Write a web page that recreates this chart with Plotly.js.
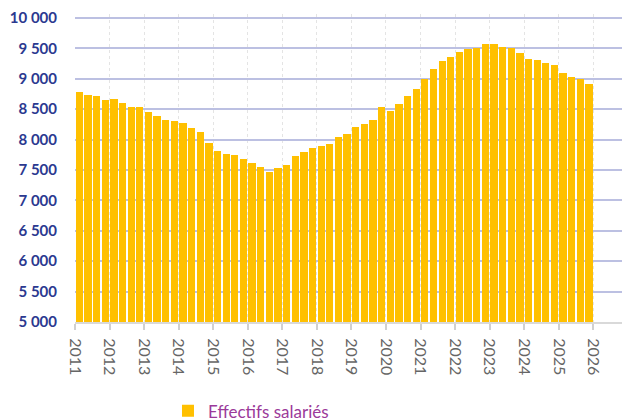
<!DOCTYPE html>
<html>
<head>
<meta charset="utf-8">
<script src="https://cdn.plot.ly/plotly-3.0.1.min.js"></script>
<style>html,body{margin:0;padding:0;background:#fff}#chart{width:622px;height:420px}</style>
</head>
<body>
<div id="chart"></div>
<script>
// Quarterly values, 2011 Q1 -> 2025 Q4
var startYear = 2011;
var values = [
  8780, 8736, 8715, 8654,
  8670, 8604, 8538, 8535,
  8451, 8385, 8319, 8298,
  8275, 8187, 8121, 7945,
  7813, 7770, 7747, 7681,
  7615, 7549, 7462, 7528,
  7577, 7726, 7792, 7858,
  7902, 7924, 8039, 8100,
  8209, 8253, 8319, 8538,
  8472, 8583, 8715, 8825,
  9000, 9155, 9286, 9352,
  9440, 9484, 9506, 9572,
  9572, 9527, 9506, 9418,
  9329, 9308, 9263, 9220,
  9089, 9023, 9000, 8912
];
var yearTicks = [2011,2012,2013,2014,2015,2016,2017,2018,2019,2020,2021,2022,2023,2024,2025,2026];
var yTicks = [5000,5500,6000,6500,7000,7500,8000,8500,9000,9500,10000];
var seriesName = "Effectifs salariés";

var xs = values.map(function(v, i){ return startYear + (i + 0.5) / 4; });

var trace = {
  type: 'bar',
  x: xs,
  y: values,
  width: 0.25 * 0.84,
  name: seriesName,
  marker: {color: '#FFC000', line: {width: 0}},
  showlegend: true,
  hoverinfo: 'x+y'
};

var layout = {
  width: 622, height: 420,
  margin: {l: 75, r: 0, t: 14, b: 98, autoexpand: false},
  paper_bgcolor: '#fff', plot_bgcolor: '#fff',
  separators: ', ',
  bargap: 0,
  showlegend: true,
  legend: {
    orientation: 'h', x: 0.17, xanchor: 'left', y: -0.29, yanchor: 'middle',
    font: {family: 'Lato, sans-serif', size: 17, color: '#9B3A9A'},
    bgcolor: 'rgba(0,0,0,0)'
  },
  xaxis: {
    range: [2011, 2026.83],
    automargin: false,
    tickmode: 'array', tickvals: yearTicks, ticktext: yearTicks.map(String),
    tickangle: 90,
    tickfont: {family: 'Lato, sans-serif', size: 16, color: '#666'},
    ticks: 'outside', ticklen: 6, tickcolor: '#d0d0d0', tickwidth: 2,
    ticklabelstandoff: 5,
    showline: true, linecolor: '#d9d9d9', linewidth: 2,
    showgrid: true, gridcolor: '#e4e4e4', griddash: 'dot', gridwidth: 1,
    zeroline: false, fixedrange: true
  },
  yaxis: {
    range: [5000, 10066],
    automargin: false,
    tickmode: 'array', tickvals: yTicks,
    tickformat: ',d',
    tickfont: {family: 'Lato, sans-serif', size: 15, color: '#2B3990', weight: 'bold'},
    ticks: '', ticklabelstandoff: 17,
    showgrid: true, gridcolor: '#BCC0E2', gridwidth: 2,
    showline: false, zeroline: false, fixedrange: true
  }
};

Plotly.newPlot('chart', [trace], layout, {displayModeBar: false, staticPlot: true});
</script>
</body>
</html>
